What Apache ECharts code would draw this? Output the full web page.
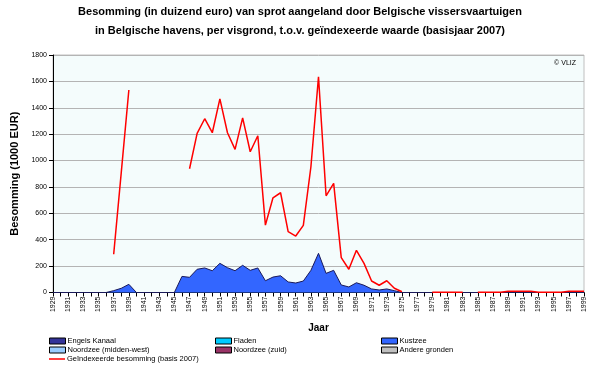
<!DOCTYPE html>
<html>
<head>
<meta charset="utf-8">
<script src="https://cdn.jsdelivr.net/npm/echarts@6/dist/echarts.min.js"></script>
<style>
html,body{margin:0;padding:0;background:#fff;}
#chart{width:600px;height:368px;}
</style>
</head>
<body>
<div id="chart"></div>
<script>
// Categories: years 1929..1999
var years = ["1929","1930","1931","1932","1933","1934","1935","1936","1937","1938",
  "1939","1940","1941","1942","1943","1944","1945","1946","1947","1948",
  "1949","1950","1951","1952","1953","1954","1955","1956","1957","1958",
  "1959","1960","1961","1962","1963","1964","1965","1966","1967","1968",
  "1969","1970","1971","1972","1973","1974","1975","1976","1977","1978",
  "1979","1980","1981","1982","1983","1984","1985","1986","1987","1988",
  "1989","1990","1991","1992","1993","1994","1995","1996","1997","1998","1999"];

// Y tick values
var yTicks = [0,200,400,600,800,1000,1200,1400,1600,1800];

// Besomming per visgrond (1000 EUR)
var engelsKanaal = [0,0,0,0,0,0,0,0,0,0, 0,0,0,0,0,0,0,0,0,0, 0,0,0,0,0,0,0,0,0,0,
  0,0,0,0,0,0,0,0,0,0, 0,0,0,0,0,0,0,0,0,0, 0,0,0,0,0,0,0,0,0,0, 0,0,0,0,0,0,0,0,0,0,0];
var fladen = engelsKanaal.slice();
var noordzeeMW = engelsKanaal.slice();
var noordzeeZuid = engelsKanaal.slice();
var andereGronden = engelsKanaal.slice();
var kustzee = [0,0,0,0,0,0,0,0,14,32,
  62,0,0,0,0,0,0,122,115,176,
  186,165,221,188,165,206,168,186,89,117,
  127,80,72,87,168,297,145,168,57,42,
  74,55,27,19,27,14,0,0,0,0,
  0,0,0,0,0,0,0,0,0,0,
  0,0,0,0,0,0,0,0,0,0,0];

// Geïndexeerde besomming (basis 2007)
var geindexeerd = [null,null,null,null,null,null,null,null,290,910,
  1535,null,null,null,null,null,null,null,938,1206,
  1317,1211,1468,1211,1085,1324,1067,1188,511,718,
  756,461,428,509,953,1635,733,827,264,176,
  320,221,87,55,89,32,6,null,null,null,
  2,2,2,2,2,null,2,2,2,2,
  9,9,9,9,2,2,2,2,9,9,9];

var FONT = 'Liberation Sans';

function areaSeries(name, data, color) {
  return {
    name: name, type: 'line', stack: 'grond', data: data,
    symbol: 'none', showSymbol: false,
    lineStyle: { width: 0, color: '#1a1a4a' },
    itemStyle: { color: color, borderColor: '#222', borderWidth: 1 },
    areaStyle: { color: color, opacity: 1 },
    emphasis: { disabled: true }, z: 2
  };
}

var chart = echarts.init(document.getElementById('chart'), null, { renderer: 'canvas' });

var legendText = { fontFamily: FONT, fontSize: 7.5, color: '#000', padding: [0, 0, 0, -3] };
var boxStyle = { borderColor: '#000', borderWidth: 1 };

var option = {
  animation: false,
  backgroundColor: '#ffffff',
  title: [
    {
      text: 'Besomming (in duizend euro) van sprot aangeland door Belgische vissersvaartuigen\nin Belgische havens, per visgrond, t.o.v. geïndexeerde waarde (basisjaar 2007)',
      left: 'center', top: 2, padding: 0,
      textStyle: { fontFamily: FONT, fontSize: 11, fontWeight: 'bold', color: '#000', lineHeight: 19 }
    },
    {
      text: '© VLIZ', right: 19, top: 55,
      textStyle: { fontFamily: FONT, fontSize: 7, fontWeight: 'normal', color: '#000' }
    }
  ],
  legend: [
    {
      left: 49, top: 337, orient: 'vertical', itemWidth: 16, itemHeight: 6, itemGap: 1, padding: 0,
      icon: 'rect', textStyle: legendText, selectedMode: false,
      data: [
        { name: 'Engels Kanaal', itemStyle: boxStyle },
        { name: 'Noordzee (midden-west)', itemStyle: boxStyle }
      ]
    },
    {
      left: 49, top: 355, orient: 'vertical', itemWidth: 16, itemHeight: 1.5, itemGap: 1, padding: 0,
      textStyle: legendText, selectedMode: false,
      data: [{ name: 'Geïndexeerde besomming (basis 2007)', icon: 'rect' }]
    },
    {
      left: 215, top: 337, orient: 'vertical', itemWidth: 16, itemHeight: 6, itemGap: 1, padding: 0,
      icon: 'rect', textStyle: legendText, selectedMode: false,
      data: [
        { name: 'Fladen', itemStyle: boxStyle },
        { name: 'Noordzee (zuid)', itemStyle: boxStyle }
      ]
    },
    {
      left: 381, top: 337, orient: 'vertical', itemWidth: 16, itemHeight: 6, itemGap: 1, padding: 0,
      icon: 'rect', textStyle: legendText, selectedMode: false,
      data: [
        { name: 'Kustzee', itemStyle: boxStyle },
        { name: 'Andere gronden', itemStyle: boxStyle }
      ]
    }
  ],
  grid: {
    left: 53, right: 16, top: 55, bottom: 75.5,
    show: true, backgroundColor: '#f4fcfc', borderColor: '#c0c0c0', borderWidth: 1,
    containLabel: false
  },
  xAxis: {
    type: 'category', data: years, boundaryGap: false,
    name: 'Jaar', nameLocation: 'middle', nameGap: 31,
    nameTextStyle: { fontFamily: FONT, fontSize: 10, fontWeight: 'bold', color: '#000' },
    axisLine: { show: true, onZero: false, lineStyle: { color: '#000', width: 1 } },
    axisTick: { show: true, interval: 0, length: 4, inside: false, lineStyle: { color: '#000' } },
    axisLabel: { interval: 1, rotate: 90, fontFamily: FONT, fontSize: 7, color: '#000', margin: 4 },
    splitLine: { show: false }
  },
  yAxis: {
    type: 'value', min: yTicks[0], max: yTicks[yTicks.length - 1], interval: 200,
    name: 'Besomming (1000 EUR)', nameLocation: 'middle', nameGap: 26,
    nameTextStyle: { fontFamily: FONT, fontSize: 11, fontWeight: 'bold', color: '#000' },
    axisLine: { show: true, lineStyle: { color: '#000', width: 1 } },
    axisTick: { show: true, length: 4, lineStyle: { color: '#000' } },
    axisLabel: { fontFamily: FONT, fontSize: 7, color: '#000', margin: 6,
      formatter: function (v) { return String(v); } },
    splitLine: { show: true, lineStyle: { color: '#b4b4b4', width: 1 } }
  },
  series: [
    areaSeries('Engels Kanaal', engelsKanaal, '#333399'),
    areaSeries('Fladen', fladen, '#00ccff'),
    areaSeries('Kustzee', kustzee, '#3366ff'),
    areaSeries('Noordzee (midden-west)', noordzeeMW, '#99ccff'),
    areaSeries('Noordzee (zuid)', noordzeeZuid, '#993366'),
    areaSeries('Andere gronden', andereGronden, '#c0c0c0'),
    {
      name: 'Geïndexeerde besomming (basis 2007)', type: 'line', data: geindexeerd,
      symbol: 'none', showSymbol: false, connectNulls: false,
      lineStyle: { color: '#ff0000', width: 1.5 }, itemStyle: { color: '#ff0000' },
      emphasis: { disabled: true }, z: 5
    }
  ]
};

// dark outline on the top of the Kustzee area
option.series[2].lineStyle = { width: 1, color: '#1a1a5a' };

chart.setOption(option);
</script>
</body>
</html>
